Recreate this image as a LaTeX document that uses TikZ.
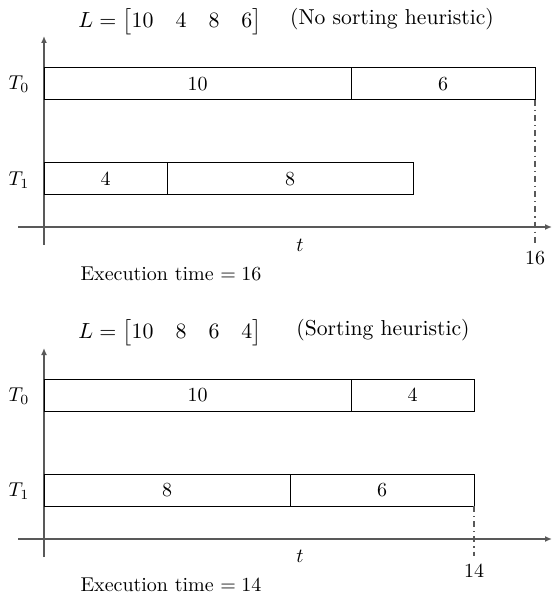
\documentclass[tikz,border=0pt]{standalone}
\usepackage{amsmath}
\usetikzlibrary{arrows.meta}
\newcommand{\gp}{\hspace{11pt}}
\begin{document}
\begin{tikzpicture}[x=0.5pt,y=-0.5pt,
  axis/.style={draw=black!65,line width=0.7pt,-{Latex[length=3.5pt,width=3pt]}},
  seg/.style={draw=black,line width=0.5pt,anchor=north west,inner sep=0pt,outer sep=0pt,minimum height=16pt},
  guide/.style={draw=black!65,line width=0.6pt,dash dot},
  lbl/.style={inner sep=1pt}]
\useasboundingbox (0,0) rectangle (553,598);
% ---------- top ----------
\node[lbl,inner sep=0pt,font=\fontsize{10.5}{12}\selectfont] (title1) at (170,22) {$L=\bigl[10\gp 4\gp 8\gp 6\bigr]$};
\node[lbl,font=\fontsize{10.8}{13}\selectfont] (note1) at (392,19) {(No sorting heuristic)};
\coordinate (ya1) at (44,245);
\coordinate (yb1) at (44,36);
\draw[axis] (ya1) -- (yb1);
\coordinate (xa1) at (18,227);
\coordinate (xb1) at (552,227);
\draw[axis] (xa1) -- (xb1);
\node[seg,minimum width=153.5pt] (a10) at (44,68) {10};
\node[seg,minimum width=92pt] (a6) at (a10.north east) {6};
\node[seg,minimum width=61.5pt] (b4) at (44,163) {4};
\node[seg,minimum width=123pt] (b8) at (b4.north east) {8};
\node[lbl] (T0a) at (19,84) {$T_0$};
\node[lbl] (T1a) at (19,180) {$T_1$};
\node[lbl] (ta) at (300,245) {$t$};
\node[lbl] (e16) at (535,258) {16};
\coordinate (g1) at (535,244);
\draw[guide] (a6.south east) -- (g1);
\node[lbl] (ex1) at (171,274) {Execution time $=16$};
% ---------- bottom ----------
\node[lbl,inner sep=0pt,font=\fontsize{10.5}{12}\selectfont] (title2) at (170,333) {$L=\bigl[10\gp 8\gp 6\gp 4\bigr]$};
\node[lbl,font=\fontsize{10.8}{13}\selectfont] (note2) at (383,330) {(Sorting heuristic)};
\coordinate (ya2) at (44,557);
\coordinate (yb2) at (44,348);
\draw[axis] (ya2) -- (yb2);
\coordinate (xa2) at (18,539);
\coordinate (xb2) at (552,539);
\draw[axis] (xa2) -- (xb2);
\node[seg,minimum width=153.5pt] (c10) at (44,379) {10};
\node[seg,minimum width=61.5pt] (c4) at (c10.north east) {4};
\node[seg,minimum width=123pt] (d8) at (44,474) {8};
\node[seg,minimum width=92pt] (d6) at (d8.north east) {6};
\node[lbl] (T0b) at (19,396) {$T_0$};
\node[lbl] (T1b) at (19,491) {$T_1$};
\node[lbl] (tb) at (300,556) {$t$};
\node[lbl] (e14) at (474,571) {14};
\coordinate (g2) at (474,556);
\draw[guide] (d6.south east) -- (g2);
\node[lbl] (ex2) at (171,585) {Execution time $=14$};
\end{tikzpicture}
\end{document}
